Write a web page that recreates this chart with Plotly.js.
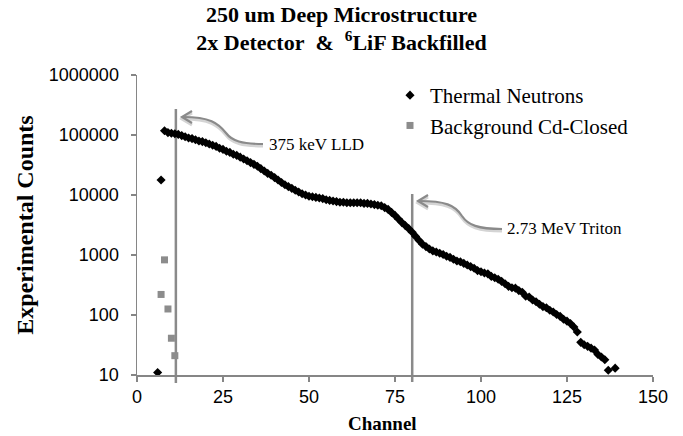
<!DOCTYPE html>
<html>
<head>
<meta charset="utf-8">
<script src="https://cdn.plot.ly/plotly-3.0.1.min.js"></script>
<style>html,body{margin:0;padding:0;background:#fff;}#chart{width:683px;height:436px;}</style>
</head>
<body>
<div id="chart"></div>
<script>
// ---- data ----
const channels = [6,7,8,9,10,11,12,13,14,15,16,17,18,19,20,21,22,23,24,25,26,27,28,29,30,
  31,32,33,34,35,36,37,38,39,40,41,42,43,44,45,46,47,48,49,50,51,52,53,54,55,56,57,58,59,60,
  61,62,63,64,65,66,67,68,69,70,71,72,73,74,75,76,77,78,79,80,81,82,83,84,85,86,87,88,89,90,
  91,92,93,94,95,96,97,98,99,100,101,102,103,104,105,106,107,108,109,110,111,112,113,114,115,
  116,117,118,119,120,121,122,123,124,125,126,127,128,129,130,131,132,133,134,135,136,137,139];
const thermalCounts = [11,17800,117500,109600,107200,104700,102300,97700,93300,89100,87100,83200,79400,77600,74100,
  70800,67600,64600,60300,57500,53700,51300,47900,45700,42700,
  39800,37200,34700,32400,30200,27500,25100,22900,21400,19500,17800,16200,14800,13800,12900,12000,11200,10500,10000,9550,
  9330,9120,8910,8710,8320,8130,7940,7760,7590,7590,
  7410,7410,7410,7410,7410,7240,7240,7080,6920,6760,6610,6170,5750,5130,4570,3980,3470,3090,2750,2400,
  2040,1740,1510,1380,1260,1170,1120,1070,1020,955,
  912,851,794,770,724,680,640,603,550,525,501,485,440,417,395,363,331,300,285,280,255,240,205,200,178,
  166,151,138,132,120,112,102,95,85,79,72,63,52,35,32,30,28,26,22,20,18,12,13];
const bgChannels = [7,8,9,10,11];
const bgCounts = [220,830,126,41,21];
const markerChannels = [11.3, 80];
const markerLabels = ['375 keV LLD', '2.73 MeV Triton'];
const xTickVals = [0,25,50,75,100,125,150];
const yTickVals = [10,100,1000,10000,100000,1000000];
const yTickText = ['10','100','1000','10000','100000','1000000'];

// ---- layout helpers (pixel -> paper) ----
const L = 137, R = 30, T = 75, B = 61, W = 683, H = 436;
const PW = W - L - R, PH = H - T - B;
const px = x => ((x - L) / PW).toFixed(4);
const py = y => ((H - B - y) / PH).toFixed(4);
const P = (x, y) => px(x) + ',' + py(y);

const SERIF = 'Liberation Serif, Times New Roman, serif';
const SANS = 'Liberation Sans, Arial, sans-serif';

const traces = [
  {
    x: channels, y: thermalCounts, type: 'scatter', mode: 'markers',
    name: 'Thermal Neutrons',
    marker: {symbol: 'diamond', size: 7, color: '#000000'}
  },
  {
    x: bgChannels, y: bgCounts, type: 'scatter', mode: 'markers',
    name: 'Background Cd-Closed',
    marker: {symbol: 'square', size: 7, color: '#8c8c8c'}
  }
];

const gray = '#8a8a8a';
const shadow = '#d4d4d4';
function arrow(pathStr, lineColor, w) {
  return {type: 'path', xref: 'paper', yref: 'paper', layer: 'above',
    path: pathStr, line: {color: lineColor, width: w}};
}
const lldCurve = (dy) => 'M ' + P(263, 144+dy) + ' C ' + P(242, 144+dy) + ' ' + P(232, 141+dy) + ' ' + P(226, 133+dy) +
  ' C ' + P(218, 123+dy) + ' ' + P(210, 117+dy) + ' ' + P(183, 117+dy);
const lldHead = (dy) => 'M ' + P(192, 111+dy) + ' L ' + P(182, 117+dy) + ' L ' + P(192, 123+dy);
const triCurve = (dy) => 'M ' + P(502, 229+dy) + ' C ' + P(478, 229+dy) + ' ' + P(468, 225+dy) + ' ' + P(462, 216+dy) +
  ' C ' + P(455, 205+dy) + ' ' + P(445, 201+dy) + ' ' + P(419, 201+dy);
const triHead = (dy) => 'M ' + P(428, 195+dy) + ' L ' + P(418, 201+dy) + ' L ' + P(428, 207+dy);

const shapes = [
  {type: 'line', xref: 'x', yref: 'paper', x0: markerChannels[0], x1: markerChannels[0],
   y0: Number(py(383)), y1: Number(py(109)), layer: 'below', line: {color: gray, width: 2.5}},
  {type: 'line', xref: 'x', yref: 'paper', x0: markerChannels[1], x1: markerChannels[1],
   y0: Number(py(382)), y1: Number(py(194)), layer: 'below', line: {color: gray, width: 2.5}},
  arrow(lldCurve(2), shadow, 3), arrow(lldHead(2), shadow, 3),
  arrow(lldCurve(0), gray, 2.2), arrow(lldHead(0), gray, 2.2),
  arrow(triCurve(2), shadow, 3), arrow(triHead(2), shadow, 3),
  arrow(triCurve(0), gray, 2.2), arrow(triHead(0), gray, 2.2)
];

const annotations = [
  {xref: 'paper', yref: 'paper', x: Number(px(267)), y: Number(py(145)), xanchor: 'left', yanchor: 'middle',
   text: markerLabels[0], showarrow: false, font: {family: SERIF, size: 17, color: '#000'}},
  {xref: 'paper', yref: 'paper', x: Number(px(505)), y: Number(py(229)), xanchor: 'left', yanchor: 'middle',
   text: markerLabels[1], showarrow: false, font: {family: SERIF, size: 17, color: '#000'}},
  {xref: 'paper', yref: 'paper', x: Number(px(383)), y: Number(py(424)), xanchor: 'center', yanchor: 'middle',
   text: '<b>Channel</b>', showarrow: false, font: {family: SERIF, size: 19, color: '#000'}}
];

const layout = {
  width: W, height: H,
  margin: {l: L, r: R, t: T, b: B, pad: 0},
  paper_bgcolor: '#ffffff', plot_bgcolor: '#ffffff',
  showlegend: true,
  title: {
    text: '<b>250 um Deep Microstructure<br>2x Detector\u00A0 &\u00A0 <sup>6</sup>LiF Backfilled</b>',
    font: {family: SERIF, size: 22, color: '#000'},
    x: 0.5, xanchor: 'center', xref: 'container',
    y: 0.95, yanchor: 'top', yref: 'container'
  },
  xaxis: {
    range: [0, 150], tickvals: xTickVals, showgrid: false, zeroline: false,
    showline: true, linecolor: '#868686', linewidth: 1.5,
    ticks: 'outside', ticklen: 5, tickcolor: '#868686', tickwidth: 1.5,
    tickfont: {family: SANS, size: 18, color: '#000'}
  },
  yaxis: {
    type: 'log', range: [1, 6], tickvals: yTickVals, ticktext: yTickText,
    showgrid: false, zeroline: false,
    showline: true, linecolor: '#868686', linewidth: 1.5,
    ticks: 'outside', ticklen: 5, tickcolor: '#868686', tickwidth: 1.5,
    ticklabelstandoff: 8,
    tickfont: {family: SANS, size: 18, color: '#000'},
    title: {text: '<b>Experimental Counts</b>', font: {family: SERIF, size: 24, color: '#000'}, standoff: 8}
  },
  legend: {
    x: Number(px(390)), y: Number(py(75)), xanchor: 'left', yanchor: 'top',
    font: {family: SERIF, size: 21, color: '#000'},
    bgcolor: 'rgba(0,0,0,0)', borderwidth: 0, itemwidth: 30
  },
  shapes: shapes,
  annotations: annotations
};

Plotly.newPlot('chart', traces, layout, {displayModeBar: false, staticPlot: true});
</script>
</body>
</html>
